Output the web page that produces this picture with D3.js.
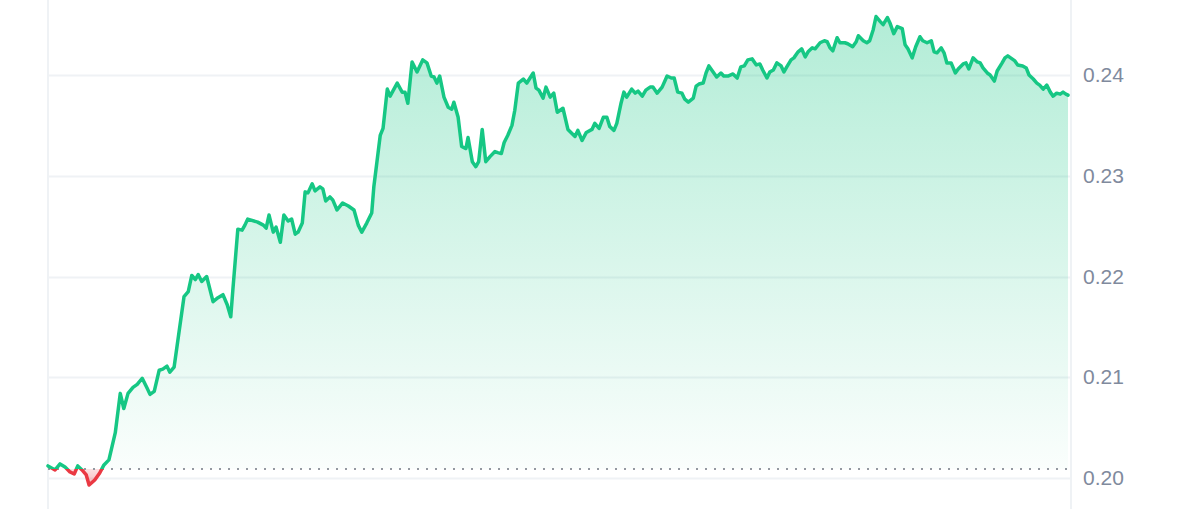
<!DOCTYPE html>
<html>
<head>
<meta charset="utf-8">
<script src="https://cdn.jsdelivr.net/npm/d3@7"></script>
<style>
  html, body { margin: 0; padding: 0; background: #ffffff; }
  #chart { width: 1200px; height: 509px; }
</style>
</head>
<body>
<div id="chart"></div>
<script>
// minutes since start of the 24h window
let minutes = [
  0, 10, 17, 24, 31, 37, 42, 48, 54, 58, 66, 73, 79, 86, 95, 102, 107, 113, 120, 126,
  133, 140, 144, 150, 157, 162, 168, 172, 178, 184, 192, 198, 203, 208, 212, 217, 224, 233, 240, 247,
  253, 258, 261, 268, 274, 278, 282, 296, 304, 308, 312, 318, 322, 328, 333, 339, 344, 349, 353, 359,
  363, 367, 373, 377, 384, 388, 392, 398, 402, 408, 416, 424, 432, 438, 443, 450, 457, 460, 463, 469,
  473, 479, 483, 493, 500, 504, 508, 514, 521, 529, 535, 541, 545, 549, 553, 559, 565, 570, 573, 579,
  584, 590, 593, 599, 604, 608, 613, 618, 624, 631, 635, 640, 644, 649, 655, 659, 664, 671, 676, 685,
  689, 693, 699, 703, 709, 714, 719, 727, 734, 744, 748, 754, 760, 768, 772, 778, 784, 789, 793, 799,
  803, 809, 813, 817, 824, 829, 833, 839, 844, 850, 854, 860, 867, 874, 880, 884, 889, 895, 899, 904,
  911, 915, 919, 925, 929, 933, 939, 944, 950, 954, 960, 967, 973, 978, 983, 988, 994, 1000, 1005, 1009,
  1015, 1019, 1024, 1029, 1035, 1039, 1043, 1049, 1053, 1059, 1064, 1069, 1073, 1079, 1083, 1090, 1096, 1100, 1104, 1108,
  1114, 1118, 1125, 1129, 1136, 1141, 1144, 1151, 1156, 1160, 1165, 1169, 1175, 1179, 1185, 1189, 1194, 1199, 1206, 1210,
  1214, 1220, 1225, 1231, 1235, 1241, 1247, 1251, 1255, 1261, 1265, 1269, 1275, 1281, 1285, 1292, 1296, 1300, 1306, 1312,
  1316, 1320, 1326, 1330, 1336, 1340, 1347, 1351, 1355, 1361, 1365, 1369, 1376, 1381, 1385, 1391, 1396, 1400, 1405, 1410,
  1415, 1419, 1424, 1429, 1433, 1437, 1440
];

let prices = [
  0.2012, 0.2008, 0.2014, 0.2011, 0.2006, 0.2004, 0.2012, 0.2008, 0.2003, 0.1993, 0.1998, 0.2005, 0.2013, 0.2018, 0.2045, 0.2084, 0.2069, 0.2084, 0.2090, 0.2093,
  0.2099, 0.2089, 0.2083, 0.2086, 0.2107, 0.2108, 0.2111, 0.2105, 0.2110, 0.2140, 0.2180, 0.2185, 0.2201, 0.2197, 0.2202, 0.2195, 0.2200, 0.2175, 0.2179, 0.2182,
  0.2172, 0.2160, 0.2187, 0.2247, 0.2246, 0.2251, 0.2257, 0.2254, 0.2251, 0.2248, 0.2261, 0.2244, 0.2249, 0.2234, 0.2261, 0.2255, 0.2257, 0.2242, 0.2244, 0.2253,
  0.2284, 0.2283, 0.2292, 0.2285, 0.2289, 0.2287, 0.2275, 0.2279, 0.2276, 0.2266, 0.2273, 0.2270, 0.2266, 0.2251, 0.2244, 0.2253, 0.2263, 0.2289, 0.2306, 0.2340,
  0.2347, 0.2386, 0.2379, 0.2392, 0.2383, 0.2383, 0.2372, 0.2413, 0.2403, 0.2415, 0.2412, 0.2399, 0.2398, 0.2392, 0.2399, 0.2378, 0.2368, 0.2366, 0.2373, 0.2358,
  0.2329, 0.2327, 0.2338, 0.2314, 0.2309, 0.2314, 0.2346, 0.2314, 0.2319, 0.2324, 0.2323, 0.2322, 0.2333, 0.2340, 0.2350, 0.2365, 0.2392, 0.2396, 0.2392, 0.2402,
  0.2387, 0.2385, 0.2377, 0.2388, 0.2378, 0.2382, 0.2363, 0.2367, 0.2346, 0.2339, 0.2345, 0.2335, 0.2343, 0.2346, 0.2352, 0.2347, 0.2358, 0.2358, 0.2349, 0.2345,
  0.2352, 0.2372, 0.2383, 0.2378, 0.2386, 0.2382, 0.2384, 0.2379, 0.2385, 0.2388, 0.2388, 0.2382, 0.2388, 0.2399, 0.2397, 0.2397, 0.2383, 0.2382, 0.2376, 0.2373,
  0.2377, 0.2389, 0.2391, 0.2392, 0.2402, 0.2409, 0.2403, 0.2398, 0.2402, 0.2399, 0.2399, 0.2401, 0.2397, 0.2408, 0.2409, 0.2415, 0.2416, 0.2410, 0.2411, 0.2405,
  0.2397, 0.2403, 0.2405, 0.2412, 0.2409, 0.2403, 0.2408, 0.2415, 0.2417, 0.2423, 0.2426, 0.2418, 0.2423, 0.2427, 0.2426, 0.2432, 0.2434, 0.2433, 0.2427, 0.2424,
  0.2437, 0.2432, 0.2432, 0.2431, 0.2428, 0.2433, 0.2439, 0.2434, 0.2432, 0.2434, 0.2445, 0.2458, 0.2453, 0.2450, 0.2457, 0.2451, 0.2441, 0.2448, 0.2446, 0.2430,
  0.2426, 0.2417, 0.2428, 0.2438, 0.2434, 0.2432, 0.2434, 0.2423, 0.2422, 0.2427, 0.2422, 0.2412, 0.2412, 0.2402, 0.2406, 0.2411, 0.2412, 0.2406, 0.2417, 0.2413,
  0.2412, 0.2407, 0.2402, 0.2400, 0.2394, 0.2404, 0.2412, 0.2417, 0.2419, 0.2416, 0.2414, 0.2410, 0.2409, 0.2407, 0.2400, 0.2396, 0.2392, 0.2390, 0.2386, 0.2390,
  0.2383, 0.2379, 0.2382, 0.2381, 0.2383, 0.2381, 0.2380
];

let openPrice = 0.2009;
let yTicks = [0.20, 0.21, 0.22, 0.23, 0.24];
let yTickLabels = ["0.20", "0.21", "0.22", "0.23", "0.24"];

let upColour = "#16c784";
let downColour = "#ea3943";
let gridColour = "#eff2f5";
let labelColour = "#808a9d";

const width = 1200;
const height = 509;

const data = minutes.map((m, i) => ({ t: m, v: prices[i] }));

var svg = d3.select("#chart")
    .append("svg")
    .attr("width", width)
    .attr("height", height);

var x = d3.scaleLinear()
    .domain([0, 1440])
    .range([48, 1068]);

var y = d3.scaleLinear()
    .domain([0.20, 0.24])
    .range([478, 75]);

const baseY = y(openPrice);

// gradients + clips for above / below the open price
var defs = svg.append("defs");

var upGrad = defs.append("linearGradient")
    .attr("id", "upGrad")
    .attr("gradientUnits", "userSpaceOnUse")
    .attr("x1", 0).attr("x2", 0)
    .attr("y1", y(d3.max(prices))).attr("y2", baseY);
upGrad.append("stop").attr("offset", "0%").attr("stop-color", upColour).attr("stop-opacity", 0.33);
upGrad.append("stop").attr("offset", "100%").attr("stop-color", upColour).attr("stop-opacity", 0.02);

var downGrad = defs.append("linearGradient")
    .attr("id", "downGrad")
    .attr("gradientUnits", "userSpaceOnUse")
    .attr("x1", 0).attr("x2", 0)
    .attr("y1", baseY).attr("y2", y(d3.min(prices)));
downGrad.append("stop").attr("offset", "0%").attr("stop-color", downColour).attr("stop-opacity", 0.15);
downGrad.append("stop").attr("offset", "100%").attr("stop-color", downColour).attr("stop-opacity", 0.35);

defs.append("clipPath").attr("id", "clipUp")
    .append("rect")
    .attr("x", 0).attr("y", 0)
    .attr("width", width).attr("height", baseY);

defs.append("clipPath").attr("id", "clipDown")
    .append("rect")
    .attr("x", 0).attr("y", baseY)
    .attr("width", width).attr("height", height - baseY);

// grid
svg.append("g")
    .selectAll("line")
    .data(yTicks)
    .enter().append("line")
    .attr("x1", 48)
    .attr("x2", 1071)
    .attr("y1", d => Math.round(y(d)) + 0.5)
    .attr("y2", d => Math.round(y(d)) + 0.5)
    .attr("stroke", gridColour)
    .attr("stroke-width", 2);

svg.append("g")
    .selectAll("line")
    .data([48, 1071])
    .enter().append("line")
    .attr("x1", d => d)
    .attr("x2", d => d)
    .attr("y1", 0)
    .attr("y2", height)
    .attr("stroke", gridColour)
    .attr("stroke-width", 2);

var area = d3.area()
    .x(d => x(d.t))
    .y0(baseY)
    .y1(d => y(d.v));

var line = d3.line()
    .x(d => x(d.t))
    .y(d => y(d.v));

svg.append("path")
    .datum(data)
    .attr("d", area)
    .attr("fill", "url(#upGrad)")
    .attr("clip-path", "url(#clipUp)");

svg.append("path")
    .datum(data)
    .attr("d", area)
    .attr("fill", "url(#downGrad)")
    .attr("clip-path", "url(#clipDown)");

// open price reference
svg.append("line")
    .attr("x1", x(0))
    .attr("x2", x(1440))
    .attr("y1", baseY)
    .attr("y2", baseY)
    .attr("stroke", "#9499a1")
    .attr("stroke-width", 2)
    .attr("stroke-dasharray", "2 7");

svg.append("path")
    .datum(data)
    .attr("d", line)
    .attr("fill", "none")
    .attr("stroke", upColour)
    .attr("stroke-width", 3.5)
    .attr("stroke-linejoin", "round")
    .attr("stroke-linecap", "round")
    .attr("clip-path", "url(#clipUp)");

svg.append("path")
    .datum(data)
    .attr("d", line)
    .attr("fill", "none")
    .attr("stroke", downColour)
    .attr("stroke-width", 3.5)
    .attr("stroke-linejoin", "round")
    .attr("stroke-linecap", "round")
    .attr("clip-path", "url(#clipDown)");

// price labels on the right
var yAxis = d3.axisRight(y)
    .tickValues(yTicks)
    .tickFormat((d, i) => yTickLabels[i])
    .tickSize(0)
    .tickPadding(0);

var axisG = svg.append("g")
    .attr("transform", "translate(1083,0)")
    .call(yAxis);

axisG.select(".domain").remove();
axisG.selectAll("text")
    .attr("fill", labelColour)
    .style("font-family", "'Liberation Sans', Arial, sans-serif")
    .style("font-size", "21px");
</script>
</body>
</html>
